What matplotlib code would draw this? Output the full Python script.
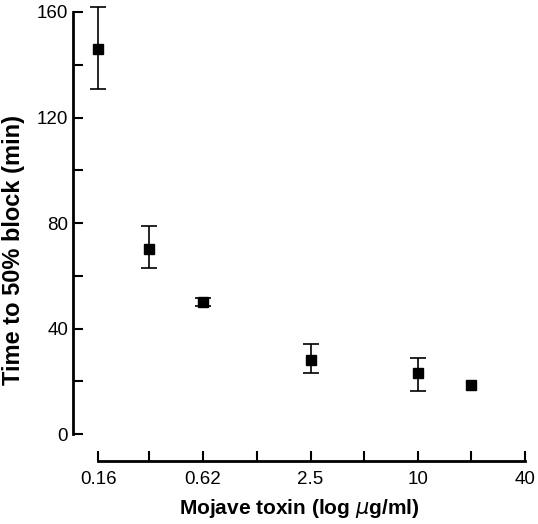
import numpy as np
import matplotlib.pyplot as plt
from matplotlib.ticker import FixedLocator, FixedFormatter, NullFormatter

# Dados
dose = [0.16, 0.31, 0.62, 2.5, 10, 20]
tempo = [146, 70, 50, 28, 23, 18.5]
erro_sup = [16, 9, 1.5, 6, 6, 0]
erro_inf = [15, 7, 1.5, 5, 6.5, 0]

x_ticks = [0.16, 0.62, 2.5, 10, 40]
x_labels = ['0.16', '0.62', '2.5', '10', '40']
x_minor = [0.31, 1.25, 5, 20]
y_ticks = [0, 40, 80, 120, 160]
y_minor = [20, 60, 100, 140]

plt.rcParams['font.family'] = ['Liberation Sans', 'DejaVu Sans']

fig = plt.figure(figsize=(5.38, 5.24), dpi=100)
ax = fig.add_axes([73 / 538, 63 / 524, 452 / 538, 449 / 524])

# so os pontos com barra de erro recebem as barras
com_erro = [i for i in range(len(dose)) if erro_sup[i] > 0]
ax.errorbar([dose[i] for i in com_erro], [tempo[i] for i in com_erro],
            yerr=[[erro_inf[i] for i in com_erro], [erro_sup[i] for i in com_erro]],
            fmt='none', ecolor='black', elinewidth=1.2, capsize=5.5, capthick=1.2,
            clip_on=False)
ax.plot(dose, tempo, 's', color='black', markersize=6.5, clip_on=False)

ax.set_xscale('log')
ax.set_xlim(0.1157, 40)
ax.set_ylim(-10.2, 160)

ax.spines['top'].set_visible(False)
ax.spines['right'].set_visible(False)
ax.spines['left'].set_bounds(0, 160)
ax.spines['bottom'].set_bounds(0.16, 40)
ax.spines['left'].set_linewidth(2)
ax.spines['bottom'].set_linewidth(2)

ax.xaxis.set_major_locator(FixedLocator(x_ticks))
ax.xaxis.set_major_formatter(FixedFormatter(x_labels))
ax.xaxis.set_minor_locator(FixedLocator(x_minor))
ax.xaxis.set_minor_formatter(NullFormatter())
ax.yaxis.set_major_locator(FixedLocator(y_ticks))
ax.yaxis.set_minor_locator(FixedLocator(y_minor))

ax.tick_params(which='both', direction='in', length=7, width=1.5, labelsize=13.5)
ax.tick_params(axis='x', pad=7)
ax.tick_params(axis='y', pad=3.5)

ax.set_xlabel('Mojave toxin (log $\\mu$g/ml)', fontsize=15, fontweight='bold', labelpad=7)
ax.set_ylabel('Time to 50% block (min)', fontsize=17, fontweight='bold')
ax.yaxis.set_label_coords(-0.106, 0.47)

plt.savefig('out.png', dpi=100)
